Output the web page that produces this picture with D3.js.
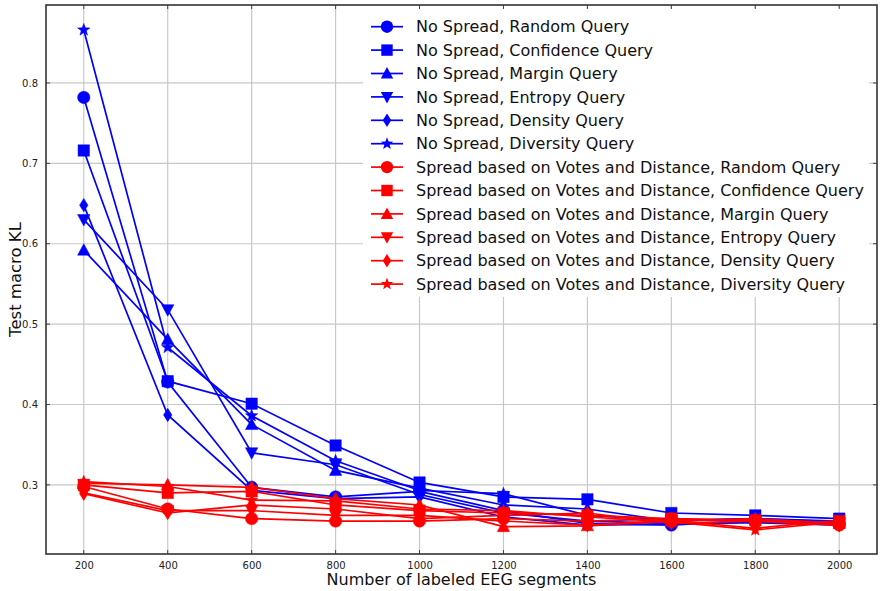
<!DOCTYPE html>
<html><head><meta charset="utf-8">
<script src="https://cdn.jsdelivr.net/npm/d3@7"></script>
<style>body{margin:0;background:#fff}svg{display:block}text{font-family:"DejaVu Sans",sans-serif}</style>
</head><body><div id="chart"></div>
<script>
const xValues = [200, 400, 600, 800, 1000, 1200, 1400, 1600, 1800, 2000];
const xTicks = [200, 400, 600, 800, 1000, 1200, 1400, 1600, 1800, 2000];
const yTicks = [0.3, 0.4, 0.5, 0.6, 0.7, 0.8];

const noSpreadRandom     = [0.782, 0.428, 0.297, 0.285, 0.292, 0.268, 0.252, 0.250, 0.256, 0.252];
const noSpreadConfidence = [0.716, 0.429, 0.401, 0.349, 0.303, 0.285, 0.282, 0.265, 0.262, 0.258];
const noSpreadMargin     = [0.592, 0.481, 0.375, 0.318, 0.296, 0.275, 0.270, 0.255, 0.258, 0.254];
const noSpreadEntropy    = [0.630, 0.518, 0.340, 0.325, 0.288, 0.265, 0.255, 0.252, 0.254, 0.253];
const noSpreadDensity    = [0.648, 0.387, 0.293, 0.283, 0.285, 0.260, 0.250, 0.251, 0.253, 0.250];
const noSpreadDiversity  = [0.866, 0.471, 0.386, 0.330, 0.293, 0.289, 0.262, 0.256, 0.258, 0.255];

const spreadRandom     = [0.298, 0.270, 0.258, 0.255, 0.255, 0.258, 0.255, 0.258, 0.255, 0.250];
const spreadConfidence = [0.300, 0.290, 0.292, 0.275, 0.268, 0.265, 0.262, 0.258, 0.256, 0.253];
const spreadMargin     = [0.302, 0.300, 0.297, 0.283, 0.275, 0.248, 0.249, 0.255, 0.258, 0.252];
const spreadEntropy    = [0.290, 0.268, 0.268, 0.262, 0.262, 0.255, 0.250, 0.256, 0.246, 0.256];
const spreadDensity    = [0.289, 0.265, 0.275, 0.270, 0.258, 0.262, 0.265, 0.252, 0.255, 0.250];
const spreadDiversity  = [0.304, 0.298, 0.281, 0.280, 0.270, 0.268, 0.260, 0.254, 0.244, 0.254];

const seriesNames = [
  "No Spread, Random Query", "No Spread, Confidence Query", "No Spread, Margin Query",
  "No Spread, Entropy Query", "No Spread, Density Query", "No Spread, Diversity Query",
  "Spread based on Votes and Distance, Random Query", "Spread based on Votes and Distance, Confidence Query",
  "Spread based on Votes and Distance, Margin Query", "Spread based on Votes and Distance, Entropy Query",
  "Spread based on Votes and Distance, Density Query", "Spread based on Votes and Distance, Diversity Query"
];
const seriesValues = [noSpreadRandom, noSpreadConfidence, noSpreadMargin, noSpreadEntropy, noSpreadDensity, noSpreadDiversity,
  spreadRandom, spreadConfidence, spreadMargin, spreadEntropy, spreadDensity, spreadDiversity];
const markerKinds = ["circle", "square", "up", "down", "diamond", "star"];
const groupColors = ["#0000ff", "#ff0000"];

const W = 882, H = 591;
const margin = {left: 46, right: 5, top: 5, bottom: 37};
const svg = d3.select("#chart").append("svg").attr("width", W).attr("height", H);

const x = d3.scaleLinear().domain([110, 2090]).range([margin.left, W - margin.right]);
const y = d3.scaleLinear().domain([0.214, 0.897]).range([H - margin.bottom, margin.top]);

function markerPath(kind) {
  const p = d3.path();
  if (kind === "circle") { p.arc(0, 0, 6.2, 0, 2 * Math.PI); }
  else if (kind === "square") { p.rect(-5.7, -5.7, 11.4, 11.4); }
  else if (kind === "up") { p.moveTo(0, -6.5); p.lineTo(6.2, 5); p.lineTo(-6.2, 5); p.closePath(); }
  else if (kind === "down") { p.moveTo(0, 6.5); p.lineTo(6.2, -5); p.lineTo(-6.2, -5); p.closePath(); }
  else if (kind === "diamond") { p.moveTo(0, -6.7); p.lineTo(4.2, 0); p.lineTo(0, 6.7); p.lineTo(-4.2, 0); p.closePath(); }
  else if (kind === "star") {
    for (let i = 0; i < 10; i++) {
      const r = i % 2 === 0 ? 6.5 : 2.7;
      const a = -Math.PI / 2 + i * Math.PI / 5;
      if (i === 0) p.moveTo(r * Math.cos(a), r * Math.sin(a)); else p.lineTo(r * Math.cos(a), r * Math.sin(a));
    }
    p.closePath();
  }
  return p.toString();
}

// grid
const grid = svg.append("g");
grid.selectAll(".gx").data(xTicks).join("line")
  .attr("x1", d => x(d)).attr("x2", d => x(d)).attr("y1", margin.top).attr("y2", H - margin.bottom)
  .attr("stroke", "#c8c8c8").attr("stroke-width", 1.2);
grid.selectAll(".gy").data(yTicks).join("line")
  .attr("y1", d => y(d)).attr("y2", d => y(d)).attr("x1", margin.left).attr("x2", W - margin.right)
  .attr("stroke", "#c8c8c8").attr("stroke-width", 1.2);

// axes
const xAxis = d3.axisBottom(x).tickValues(xTicks).tickSize(0).tickPadding(8).tickFormat(d3.format("d"));
const yAxis = d3.axisLeft(y).tickValues(yTicks).tickSize(0).tickPadding(8).tickFormat(d3.format(".1f"));
const gx = svg.append("g").attr("transform", `translate(0,${H - margin.bottom})`).call(xAxis);
const gy = svg.append("g").attr("transform", `translate(${margin.left},0)`).call(yAxis);
[gx, gy].forEach(g => { g.select(".domain").remove(); g.selectAll("text").attr("font-size", 10).attr("fill", "#222").attr("font-family", "DejaVu Sans"); });

// series
const line = d3.line().x((d, i) => x(xValues[i])).y(d => y(d));
const plot = svg.append("g");
seriesValues.forEach((vals, si) => {
  const color = groupColors[Math.floor(si / 6)];
  const kind = markerKinds[si % 6];
  const g = plot.append("g");
  g.append("path").attr("d", line(vals)).attr("fill", "none").attr("stroke", color).attr("stroke-width", 1.7);
  g.selectAll("path.m").data(vals).join("path").attr("class", "m")
    .attr("d", markerPath(kind))
    .attr("transform", (d, i) => `translate(${x(xValues[i])},${y(d)})`)
    .attr("fill", color).attr("stroke", color).attr("stroke-width", 0.5);
});

// legend
const leg = svg.append("g");
leg.append("rect").attr("x", 363).attr("y", 8).attr("width", 506).attr("height", 289).attr("fill", "#fff");
seriesNames.forEach((name, si) => {
  const color = groupColors[Math.floor(si / 6)];
  const ly = 26.7 + si * 23.4;
  leg.append("line").attr("x1", 371).attr("x2", 403).attr("y1", ly).attr("y2", ly).attr("stroke", color).attr("stroke-width", 1.7);
  leg.append("path").attr("d", markerPath(markerKinds[si % 6])).attr("transform", `translate(387,${ly})`).attr("fill", color);
  leg.append("text").attr("x", 416).attr("y", ly).attr("dy", "0.36em").attr("font-size", 16).attr("fill", "#111").text(name);
});

// frame with inward ticks
const fr = svg.append("g");
const x0 = margin.left, x1 = W - margin.right, y0 = margin.top, y1 = H - margin.bottom;
xTicks.forEach(t => {
  fr.append("line").attr("x1", x(t)).attr("x2", x(t)).attr("y1", y1).attr("y2", y1 - 4).attr("stroke", "#444");
  fr.append("line").attr("x1", x(t)).attr("x2", x(t)).attr("y1", y0).attr("y2", y0 + 4).attr("stroke", "#444");
});
yTicks.forEach(t => {
  fr.append("line").attr("y1", y(t)).attr("y2", y(t)).attr("x1", x0).attr("x2", x0 + 4).attr("stroke", "#444");
  fr.append("line").attr("y1", y(t)).attr("y2", y(t)).attr("x1", x1).attr("x2", x1 - 4).attr("stroke", "#444");
});
fr.append("rect").attr("x", x0).attr("y", y0).attr("width", x1 - x0).attr("height", y1 - y0)
  .attr("fill", "none").attr("stroke", "#333").attr("stroke-width", 1.6);

// axis labels
svg.append("text").attr("x", (x0 + x1) / 2).attr("y", 585).attr("text-anchor", "middle")
  .attr("font-size", 16).attr("fill", "#111").text("Number of labeled EEG segments");
svg.append("text").attr("transform", `translate(15,${(y0 + y1) / 2}) rotate(-90)`).attr("text-anchor", "middle")
  .attr("dy", "0.35em").attr("font-size", 16.5).attr("fill", "#111").text("Test macro KL");
</script></body></html>
